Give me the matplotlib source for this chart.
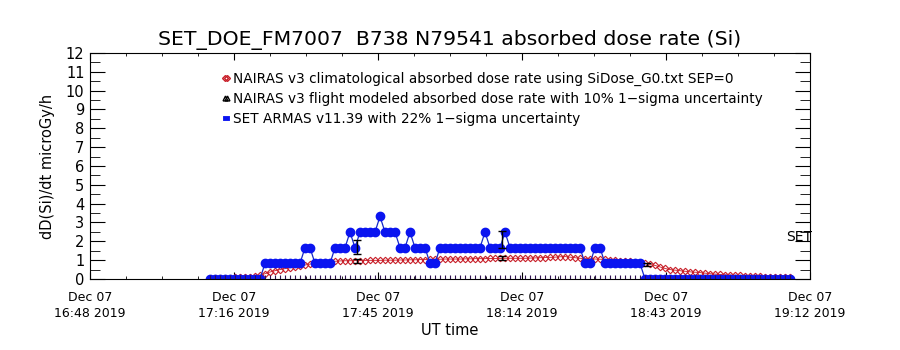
import matplotlib
matplotlib.use("Agg")
import matplotlib.pyplot as plt
import matplotlib.dates as mdates
from matplotlib.lines import Line2D
import numpy as np
import pandas as pd

title = "SET_DOE_FM7007  B738 N79541 absorbed dose rate (Si)"
axis_start = pd.Timestamp("2019-12-07 16:48")
axis_end = pd.Timestamp("2019-12-07 19:12")
first_sample = pd.Timestamp("2019-12-07 17:12")

# SET ARMAS dose rate, one sample per minute from 17:12 (microGy/h)
set_armas = ([0.0] * 11 + [0.83] * 8 + [1.66] * 2 + [0.83] * 4 + [1.66] * 3
             + [2.49] + [1.66] + [2.49] * 4 + [3.32] + [2.49] * 3 + [1.66] * 2
             + [2.49] + [1.66] * 3 + [0.83] * 2 + [1.66] * 9 + [2.49]
             + [1.66] * 3 + [2.49] + [1.66] * 15 + [0.83] * 2 + [1.66] * 2
             + [0.83] * 8 + [0.0] * 30)

# NAIRAS climatological dose rate, same time samples
nairas_clim = [0.02, 0.03, 0.04, 0.05, 0.06, 0.08, 0.09, 0.11, 0.13, 0.16,
               0.20, 0.28, 0.37, 0.44, 0.50, 0.55, 0.60, 0.64, 0.69, 0.74,
               0.79, 0.84, 0.87, 0.89, 0.92, 0.94, 0.96, 0.97, 0.97, 0.98,
               0.98, 0.98, 0.99, 0.99, 0.99, 1.00, 1.00, 1.00, 1.01, 1.01,
               1.02, 1.02, 1.03, 1.03, 1.04, 1.05, 1.05, 1.06, 1.06, 1.06,
               1.06, 1.07, 1.07, 1.08, 1.08, 1.08, 1.09, 1.09, 1.09, 1.10,
               1.10, 1.10, 1.10, 1.10, 1.11, 1.12, 1.13, 1.14, 1.15, 1.16,
               1.18, 1.19, 1.16, 1.13, 1.10, 1.08, 1.07, 1.06, 1.05, 1.04,
               1.03, 1.00, 0.97, 0.95, 0.93, 0.90, 0.87, 0.83, 0.77, 0.72,
               0.64, 0.56, 0.50, 0.47, 0.44, 0.41, 0.38, 0.36, 0.34, 0.31,
               0.28, 0.26, 0.24, 0.22, 0.21, 0.20, 0.19, 0.18, 0.17, 0.16,
               0.14, 0.13, 0.12, 0.11, 0.10, 0.09, 0.09]

# points with error bars
flight_times = ["2019-12-07 17:41:24", "2019-12-07 18:10:24", "2019-12-07 18:39:24"]
flight_vals = [0.96, 1.10, 0.75]
set_err_times = ["2019-12-07 17:41:24", "2019-12-07 18:10:24"]
set_err_vals = [1.71, 2.10]

labels = ["NAIRAS v3 climatological absorbed dose rate using SiDose_G0.txt SEP=0",
          "NAIRAS v3 flight modeled absorbed dose rate with 10% 1\u2212sigma uncertainty",
          "SET ARMAS v11.39 with 22% 1\u2212sigma uncertainty"]

times = pd.date_range(first_sample, periods=len(set_armas), freq="1min")
ft = pd.to_datetime(flight_times)
st = pd.to_datetime(set_err_times)

fig = plt.figure(figsize=(9, 3.5), dpi=100)
ax = fig.add_axes([0.1, 0.2029, 0.8, 0.6457])

blue = "#0a14f0"
red = "#c81e28"

ax.plot(times, nairas_clim, color=red, lw=0.6, marker="D", ms=3.3,
        mfc="none", mec=red, mew=0.8)
ax.plot(times, set_armas, color="#1428c8", lw=0.9, marker="o", ms=6,
        mfc=blue, mec=blue)
ax.plot(times, np.zeros(len(times)), "|", color="#301050", ms=6, mew=0.8)

ax.errorbar(ft, flight_vals, yerr=0.1 * np.array(flight_vals), fmt="none",
            ecolor="black", elinewidth=1, capsize=3, capthick=1)
ax.errorbar(st, set_err_vals, yerr=0.22 * np.array(set_err_vals), fmt="none",
            ecolor="black", elinewidth=1, capsize=3, capthick=1)

ax.text(mdates.date2num(axis_start + pd.Timedelta(minutes=141.8)), 2.24, "SET",
        ha="center", va="center", fontsize=10)

ax.set_xlim(axis_start, axis_end)
ax.set_ylim(0, 12)

span = (mdates.date2num(axis_end) - mdates.date2num(axis_start))
x0 = mdates.date2num(axis_start)
ax.xaxis.set_major_locator(matplotlib.ticker.FixedLocator([x0 + span * k / 5 for k in range(6)]))
ax.xaxis.set_minor_locator(matplotlib.ticker.FixedLocator([x0 + span * k / 20 for k in range(21)]))
ax.xaxis.set_major_formatter(mdates.DateFormatter("%b %d\n%H:%M %Y"))
ax.set_yticks(range(13))
ax.yaxis.set_minor_locator(matplotlib.ticker.MultipleLocator(0.5))

ax.tick_params(axis="x", which="major", direction="in", length=5, top=True,
               labelsize=9, pad=9)
ax.tick_params(axis="x", which="minor", direction="in", length=2.5, top=True)
ax.tick_params(axis="y", which="major", direction="in", length=11, right=True,
               labelsize=10.5, pad=4)
ax.tick_params(axis="y", which="minor", direction="in", length=7, right=True)
for lab in ax.get_xticklabels():
    lab.set_linespacing(1.25)

ax.set_xlabel("UT time", fontsize=10.5, labelpad=2)
ax.set_ylabel("dD(Si)/dt microGy/h", fontsize=10.5, labelpad=8)
ax.set_title(title, fontsize=14.7, pad=6)

handles = [Line2D([], [], color=red, lw=0, marker="D", ms=3, mfc="none", mec=red),
           Line2D([], [], color="black", lw=0, marker="^", ms=3.5, mfc="none", mec="black"),
           Line2D([], [], color=blue, lw=3.5)]
ax.legend(handles, labels, loc="upper left", bbox_to_anchor=(0.172, 0.948),
          frameon=False, fontsize=9.8, handlelength=0.8, handletextpad=0.1,
          borderpad=0, labelspacing=0.45, numpoints=2)

fig.savefig("out.png", dpi=100)
